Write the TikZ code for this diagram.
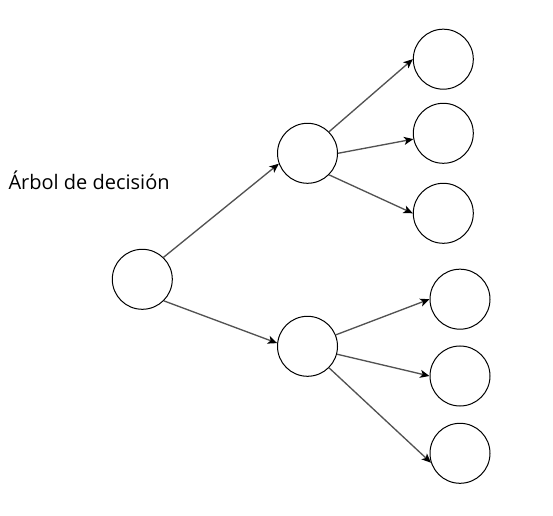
\documentclass[tikz,border=0pt]{standalone}
\usepackage{fontspec}
\setmainfont{Open Sans}
\usetikzlibrary{arrows.meta}
\begin{document}
\begin{tikzpicture}[x=0.75pt,y=-0.75pt,
  leaf/.style={draw=black,line width=0.75pt,circle,minimum size=45pt,inner sep=0pt},
  edge/.style={draw=black!68,line width=1pt,-{Stealth[length=7pt,width=6pt,inset=1.8pt,color=black]}}]
\useasboundingbox (0,0) rectangle (553,516);
\node[anchor=base west,inner sep=0pt,font=\fontsize{15}{18}\selectfont] (title) at (8.3,189.3) {Árbol de decisión};
\node[leaf] (root) at (142.3,279.3) {};
\node[leaf] (mu) at (307.5,153.3) {};
\node[leaf] (ml) at (307.5,346.3) {};
\node[leaf] (l1) at (443.3,59.2) {};
\node[leaf] (l2) at (443.3,133.3) {};
\node[leaf] (l3) at (443.3,213.3) {};
\node[leaf] (l4) at (460,299.2) {};
\node[leaf] (l5) at (460,376) {};
\node[leaf] (l6) at (460,453.3) {};
\draw[edge] (root.46) -- (mu.200);
\draw[edge] (root.-45) -- (ml.174);
\draw[edge] (mu.45) -- (l1.180);
\draw[edge] (mu.0) -- (l2.191);
\draw[edge] (mu.-45) -- (l3.180);
\draw[edge] (ml.22) -- (l4.180);
\draw[edge] (ml.-15) -- (l5.180);
\draw[edge] (ml.-45) -- (l6.198);
\end{tikzpicture}
\end{document}
